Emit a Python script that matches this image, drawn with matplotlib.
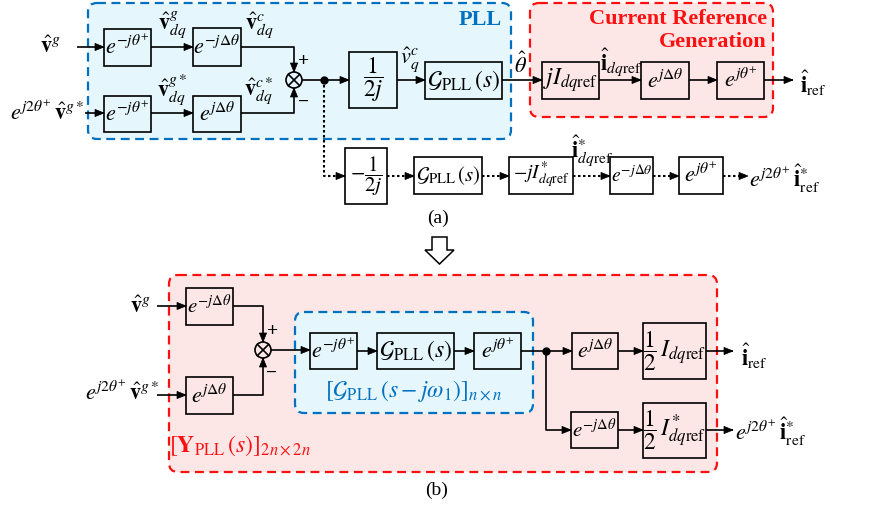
"""
Diagrama de bloques del PLL y de la generación de la corriente de referencia.
(a) estructura original, (b) forma equivalente [Y_PLL(s)].
"""
import matplotlib
matplotlib.use("Agg")
import matplotlib.pyplot as plt
from matplotlib.patches import FancyBboxPatch, Rectangle, Circle, Polygon

plt.rcParams["font.family"] = ["Liberation Serif", "DejaVu Serif"]
plt.rcParams["mathtext.fontset"] = "stix"

W, H = 873, 511
BLUE, BLUE_FILL = "#0070C0", "#E5F6FD"
RED, RED_FILL = "#FF1010", "#FDE6E6"
LW = 1.2

# ---- textos de los bloques ----
G_PLL = r"$\mathcal{G}_{\mathrm{PLL}}\,\left(s\right)$"
E_M_TH = r"$e^{-j\theta^{+}}$"
E_P_TH = r"$e^{j\theta^{+}}$"
E_M_DTH = r"$e^{-j\Delta\theta}$"
E_P_DTH = r"$e^{j\Delta\theta}$"
HALF_INV_J = r"$\dfrac{1}{2j}$"
M_HALF_INV_J = r"$-\dfrac{1}{2j}$"
J_IDQ = r"$jI_{dq\mathrm{ref}}$"
MJ_IDQ_C = r"$-jI_{dq\mathrm{ref}}^{*}$"
HALF_IDQ = r"$\dfrac{1}{2}\,I_{dq\mathrm{ref}}$"
HALF_IDQ_C = r"$\dfrac{1}{2}\,I_{dq\mathrm{ref}}^{*}$"

# ---- señales ----
V_G = r"$\hat{\mathbf{v}}^{g}$"
V_G_CONJ = r"$e^{j2\theta^{+}}\,\hat{\mathbf{v}}^{g*}$"
V_DQ_G = r"$\hat{\mathbf{v}}_{dq}^{g}$"
V_DQ_C = r"$\hat{\mathbf{v}}_{dq}^{c}$"
V_DQ_G_CONJ = r"$\hat{\mathbf{v}}_{dq}^{g*}$"
V_DQ_C_CONJ = r"$\hat{\mathbf{v}}_{dq}^{c*}$"
V_Q_C = r"$\hat{v}_{q}^{c}$"
THETA = r"$\hat{\theta}$"
I_DQ = r"$\hat{\mathbf{i}}_{dq\mathrm{ref}}$"
I_DQ_CONJ = r"$\hat{\mathbf{i}}_{dq\mathrm{ref}}^{*}$"
I_REF = r"$\hat{\mathbf{i}}_{\mathrm{ref}}$"
I_REF_CONJ = r"$e^{j2\theta^{+}}\,\hat{\mathbf{i}}_{\mathrm{ref}}^{*}$"

GROUP_PLL = "PLL"
GROUP_CRG = ["Current Reference", "Generation"]
GROUP_GPLL = r"$\left[\mathcal{G}_{\mathrm{PLL}}\,\left(s-j\omega_{1}\right)\right]_{n\times n}$"
GROUP_YPLL = r"$\left[\mathbf{Y}_{\mathrm{PLL}}\,\left(s\right)\right]_{2n\times 2n}$"
CAPTIONS = ["(a)", "(b)"]

fig = plt.figure(figsize=(W / 100, H / 100), dpi=100)
ax = fig.add_axes([0, 0, 1, 1])
ax.set_xlim(0, W)
ax.set_ylim(H, 0)
ax.axis("off")


def region(x0, y0, x1, y1, ec, fc):
    ax.add_patch(FancyBboxPatch((x0, y0), x1 - x0, y1 - y0,
                                boxstyle="round,pad=0,rounding_size=9",
                                ec=ec, fc=fc, lw=1.6, ls=(0, (4, 2.5)), zorder=0))


def block(x0, y0, x1, y1, label, fs=16):
    ax.add_patch(Rectangle((x0, y0), x1 - x0, y1 - y0, fill=False,
                           ec="black", lw=LW, zorder=3))
    ax.text((x0 + x1) / 2, (y0 + y1) / 2, label, ha="center", va="center",
            fontsize=fs, zorder=4)


def head(x, y, d):
    L, w = 9, 3.6
    if d == "r":
        pts = [(x, y), (x - L, y - w), (x - L, y + w)]
    elif d == "d":
        pts = [(x, y), (x - w, y - L), (x + w, y - L)]
    else:
        pts = [(x, y), (x - w, y + L), (x + w, y + L)]
    ax.add_patch(Polygon(pts, closed=True, fc="black", ec="black", lw=0.5, zorder=5))


def wire(pts, dotted=False, arrow=True):
    xs = [p[0] for p in pts]
    ys = [p[1] for p in pts]
    ls = (0, (1.2, 1.2)) if dotted else "-"
    ax.plot(xs, ys, color="black", lw=LW + (0.3 if dotted else 0), ls=ls,
            solid_capstyle="butt", zorder=2)
    if arrow:
        (xa, ya), (xb, yb) = pts[-2], pts[-1]
        if yb == ya:
            head(xb, yb, "r")
        else:
            head(xb, yb, "d" if yb > ya else "u")


def summer(cx, cy, r=8):
    ax.add_patch(Circle((cx, cy), r, fill=False, ec="black", lw=LW, zorder=3))
    k = r * 0.707
    ax.plot([cx - k, cx + k], [cy - k, cy + k], color="black", lw=LW, zorder=3)
    ax.plot([cx - k, cx + k], [cy + k, cy - k], color="black", lw=LW, zorder=3)


def dot(x, y):
    ax.plot(x, y, "o", ms=5, color="black", zorder=5)


def txt(x, y, s, fs=16, **kw):
    ax.text(x, y, s, ha=kw.pop("ha", "center"), va=kw.pop("va", "center"),
            fontsize=fs, zorder=6, **kw)


# =====================================================================
# (a)
# =====================================================================
region(88, 3, 511, 139, BLUE, BLUE_FILL)
region(530, 3, 773, 117, RED, RED_FILL)
txt(502, 20, GROUP_PLL, fs=16, ha="right", color=BLUE, fontweight="bold")
txt(767, 19, GROUP_CRG[0], fs=16, ha="right", color=RED, fontweight="bold")
txt(767, 42, GROUP_CRG[1], fs=16, ha="right", color=RED, fontweight="bold")

# fila superior
txt(50, 47, V_G)
wire([(77, 47), (104, 47)])
block(104, 29, 151, 66, E_M_TH)
wire([(151, 47), (193, 47)])
txt(172, 25, V_DQ_G)
block(193, 28, 241, 66, E_M_DTH)
txt(259, 25, V_DQ_C)
wire([(241, 47), (294, 47), (294, 72)])

# fila inferior
txt(47, 113, V_G_CONJ)
wire([(85, 113), (104, 113)])
block(104, 96, 151, 132, E_M_TH)
wire([(151, 113), (193, 113)])
txt(172, 91, V_DQ_G_CONJ)
block(193, 96, 241, 132, E_P_DTH)
txt(259, 91, V_DQ_C_CONJ)
wire([(241, 113), (294, 113), (294, 88)])

summer(294, 80)
txt(304, 62, "+", fs=14, fontweight="bold")
txt(304, 102, "\u2212", fs=14, fontweight="bold")

wire([(302, 80), (349, 80)])
dot(324, 80)
block(349, 52, 397, 108, HALF_INV_J, fs=17)
txt(410, 60, V_Q_C)
wire([(397, 80), (425, 80)])
block(425, 62, 502, 99, G_PLL, fs=17)
txt(521, 65, THETA)
wire([(502, 80), (542, 80)])
block(542, 62, 599, 99, J_IDQ, fs=17)
txt(621, 62, I_DQ)
wire([(599, 80), (641, 80)])
block(641, 62, 689, 99, E_P_DTH)
wire([(689, 80), (717, 80)])
block(717, 62, 764, 99, E_P_TH)
wire([(764, 80), (793, 80)])
txt(813, 83, I_REF)

# rama conjugada (punteada)
wire([(324, 80), (324, 176), (345, 176)], dotted=True)
block(345, 148, 387, 204, M_HALF_INV_J, fs=15)
wire([(387, 176), (414, 176)], dotted=True)
block(414, 157, 482, 194, G_PLL, fs=15)
wire([(482, 176), (509, 176)], dotted=True)
block(509, 157, 573, 194, MJ_IDQ_C, fs=14)
txt(592, 151, I_DQ_CONJ)
wire([(573, 176), (610, 176)], dotted=True)
block(610, 157, 653, 194, E_M_DTH, fs=14)
wire([(653, 176), (679, 176)], dotted=True)
block(679, 157, 723, 194, E_P_TH)
wire([(723, 176), (748, 176)], dotted=True)
txt(785, 179, I_REF_CONJ)

txt(438, 218, CAPTIONS[0], fs=14)

# flecha hueca
ax.add_patch(Polygon([(432, 237), (447, 237), (447, 250), (454, 250), (439.5, 264),
                      (425, 250), (432, 250)], closed=True, fc="white",
                     ec="black", lw=1.1, zorder=3))

# =====================================================================
# (b)
# =====================================================================
region(169, 275, 717, 472, RED, RED_FILL)
region(295, 312, 533, 413, BLUE, BLUE_FILL)

txt(140, 307, V_G)
wire([(157, 306), (186, 306)])
block(186, 288, 233, 325, E_M_DTH, fs=15)
wire([(233, 306), (263, 306), (263, 342)])

txt(122, 393, V_G_CONJ)
wire([(157, 395), (186, 395)])
block(186, 377, 233, 414, E_P_DTH)
wire([(233, 395), (263, 395), (263, 358)])

summer(263, 350)
txt(273, 332, "+", fs=14, fontweight="bold")
txt(272, 373, "\u2212", fs=14, fontweight="bold")

wire([(271, 350), (310, 350)])
block(310, 333, 357, 369, E_M_TH)
wire([(357, 351), (377, 351)])
block(377, 333, 454, 369, G_PLL, fs=17)
wire([(454, 351), (474, 351)])
block(474, 333, 521, 369, E_P_TH)
wire([(521, 351), (546, 351)], arrow=False)
dot(546, 351)
txt(414, 391, GROUP_GPLL, fs=17, color=BLUE)

wire([(546, 351), (572, 351)])
block(572, 333, 618, 369, E_P_DTH)
wire([(618, 351), (643, 351)])
block(643, 323, 706, 379, HALF_IDQ, fs=17)
wire([(706, 351), (733, 351)])
txt(754, 356, I_REF)

wire([(546, 351), (546, 430), (571, 430)])
block(571, 412, 618, 448, E_M_DTH, fs=15)
wire([(618, 430), (643, 430)])
block(643, 403, 706, 458, HALF_IDQ_C, fs=17)
wire([(706, 430), (733, 430)])
txt(771, 432, I_REF_CONJ)

txt(240, 446, GROUP_YPLL, fs=17, color=RED)
txt(437, 490, CAPTIONS[1], fs=14)

fig.savefig("out.png", dpi=100)
